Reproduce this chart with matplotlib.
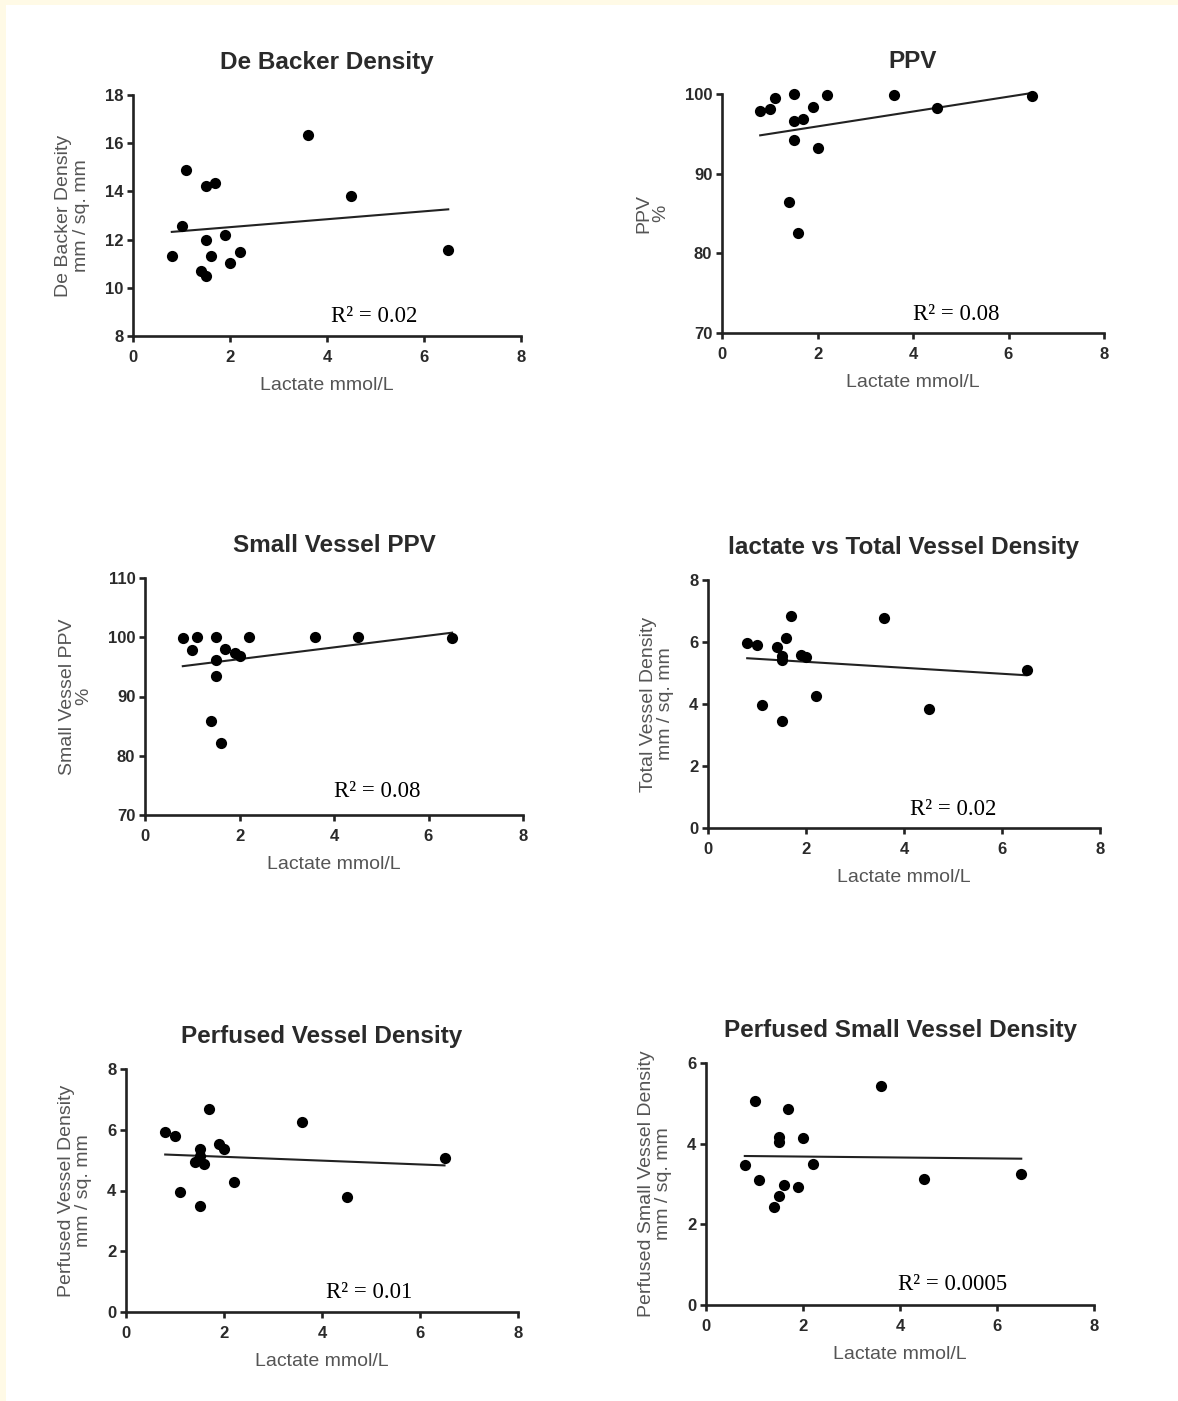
import numpy as np
import matplotlib
matplotlib.use("Agg")
import matplotlib.pyplot as plt
from matplotlib.patches import Rectangle

# ---------------- data ----------------
lactate = [0.8, 1.0, 1.1, 1.4, 1.5, 1.5, 1.5, 1.6, 1.7, 1.9, 2.0, 2.2, 3.6, 4.5, 6.5]

de_backer = [11.3, 12.55, 14.87, 10.7, 14.22, 12.0, 10.5, 11.3, 14.36, 12.19, 11.04, 11.5, 16.33, 13.8, 11.55]
ppv = [97.9, 98.1, 99.5, 86.4, 100.0, 96.6, 94.2, 82.6, 96.9, 98.4, 93.2, 99.9, 99.9, 98.2, 99.8]
small_ppv = [99.8, 97.9, 100.0, 85.8, 100.0, 96.2, 93.4, 82.2, 98.1, 97.3, 96.9, 100.0, 100.0, 100.0, 99.8]
total_density = [5.98, 5.91, 3.97, 5.84, 5.54, 5.41, 3.45, 6.13, 6.85, 5.58, 5.53, 4.25, 6.77, 3.84, 5.09]
perfused_density = [5.91, 5.81, 3.96, 4.95, 5.35, 5.15, 3.48, 4.88, 6.69, 5.53, 5.38, 4.28, 6.24, 3.77, 5.08]
perfused_small = [3.48, 5.05, 3.10, 2.44, 2.71, 4.16, 4.03, 2.98, 4.86, 2.92, 4.15, 3.49, 5.44, 3.12, 3.24]

titles = ["De Backer Density", "PPV", "Small Vessel PPV",
          "lactate vs Total Vessel Density", "Perfused Vessel Density",
          "Perfused Small Vessel Density"]
ylabels = ["De Backer Density\nmm / sq. mm", "PPV\n%", "Small Vessel PPV\n%",
           "Total Vessel Density\nmm / sq. mm", "Perfused Vessel Density\nmm / sq. mm",
           "Perfused Small Vessel Density\nmm / sq. mm"]
r2_labels = ["R² = 0.02", "R² = 0.08", "R² = 0.08", "R² = 0.02", "R² = 0.01", "R² = 0.0005"]
xlabel = "Lactate mmol/L"
xticks = [0, 2, 4, 6, 8]
yticks_list = [[8, 10, 12, 14, 16, 18], [70, 80, 90, 100], [70, 80, 90, 100, 110],
               [0, 2, 4, 6, 8], [0, 2, 4, 6, 8], [0, 2, 4, 6]]
series = [de_backer, ppv, small_ppv, total_density, perfused_density, perfused_small]

# ---------------- layout (pixels) ----------------
W, H = 1178, 1401
boxes = [(133, 521, 95, 336), (722, 1104, 94, 333),
         (145, 523, 578, 815), (708, 1100, 580, 828),
         (126, 518, 1069, 1312), (706, 1094, 1063, 1305)]
r2_pos = [(0.51, 0.058), (0.50, 0.054), (0.50, 0.076), (0.515, 0.052), (0.51, 0.058), (0.495, 0.062)]

fig = plt.figure(figsize=(W / 100, H / 100), dpi=100)
fig.patch.set_facecolor("white")
cream = "#FFFAE6"
fig.patches.append(Rectangle((0, 1 - 5 / H), 1, 5 / H, transform=fig.transFigure,
                             facecolor=cream, edgecolor="none", zorder=0))
fig.patches.append(Rectangle((0, 0), 6 / W, 1, transform=fig.transFigure,
                             facecolor=cream, edgecolor="none", zorder=0))

sans = "Liberation Sans"
serif = "Liberation Serif"

for i, (l, r, t, b) in enumerate(boxes):
    ax = fig.add_axes([l / W, 1 - b / H, (r - l) / W, (b - t) / H])
    x = np.array(lactate)
    y = np.array(series[i])
    ax.scatter(x, y, s=65, color="black", zorder=3, linewidths=0, clip_on=False)
    k, c0 = np.polyfit(x, y, 1)
    xs = np.array([x.min(), x.max()])
    ax.plot(xs, k * xs + c0, color="#222222", lw=1.5, zorder=2, clip_on=False)

    yt = yticks_list[i]
    ax.set_xlim(0, 8)
    ax.set_ylim(yt[0], yt[-1])
    ax.set_xticks(xticks)
    ax.set_yticks(yt)
    for s in ["top", "right"]:
        ax.spines[s].set_visible(False)
    for s in ["left", "bottom"]:
        ax.spines[s].set_linewidth(1.9)
        ax.spines[s].set_color("#222222")
    ax.tick_params(direction="out", length=4, width=1.9, color="#222222",
                   labelsize=12, pad=3)
    ax.tick_params(axis="x", pad=6)
    for lab in ax.get_xticklabels() + ax.get_yticklabels():
        lab.set_fontfamily(sans)
        lab.set_fontweight("bold")
        lab.set_color("#2a2a2a")
    ax.set_xlabel(xlabel, fontsize=14, family=sans, color="#555555", labelpad=9)
    ax.set_ylabel(ylabels[i], fontsize=14, family=sans, color="#555555",
                  labelpad=11, linespacing=1.0)
    ax.set_title(titles[i], fontsize=17.5, family=sans, fontweight="bold",
                 color="#2a2a2a", pad=19)
    ax.text(r2_pos[i][0], r2_pos[i][1], r2_labels[i], transform=ax.transAxes,
            ha="left", va="baseline", fontsize=16.5, family=serif, color="black")
    ax.set_facecolor("none")

fig.savefig("out.png", dpi=100, facecolor=fig.get_facecolor())
